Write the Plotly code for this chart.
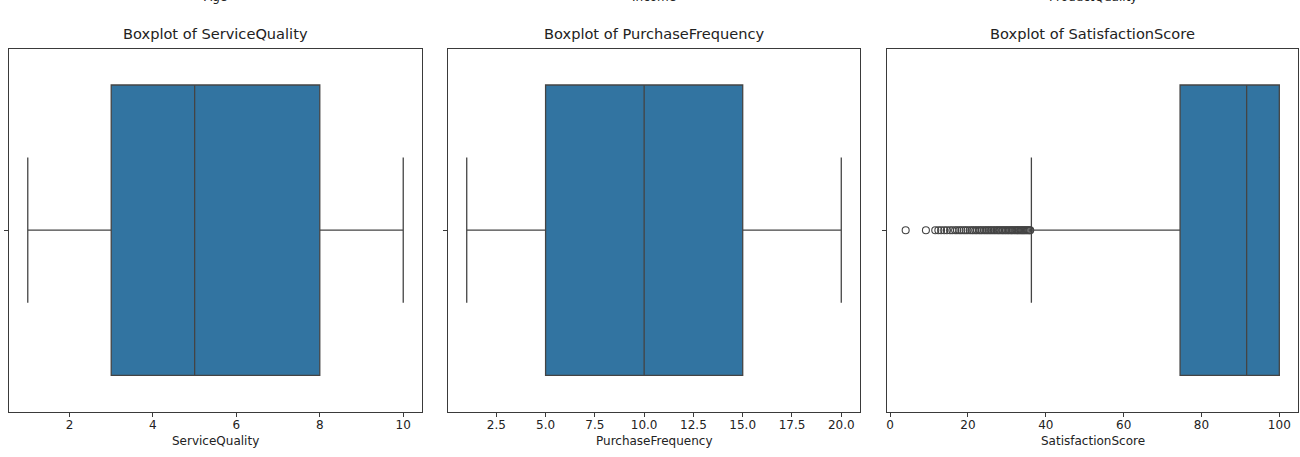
import plotly.graph_objects as go

# ---- data ----
panels = ["ServiceQuality", "PurchaseFrequency", "SatisfactionScore"]
top_labels = ["Age", "Income", "ProductQuality"]
q1 = [3, 5, 74.5]
median = [5, 10, 91.6]
q3 = [8, 15, 100]
lower = [1, 1, 36.3]
upper = [10, 20, 100]
x_ranges = [[0.55, 10.45], [0.05, 20.95], [-0.8, 104.8]]
tick_vals = [[2, 4, 6, 8, 10],
             [2.5, 5.0, 7.5, 10.0, 12.5, 15.0, 17.5, 20.0],
             [0, 20, 40, 60, 80, 100]]
tick_text = [["2", "4", "6", "8", "10"],
             ["2.5", "5.0", "7.5", "10.0", "12.5", "15.0", "17.5", "20.0"],
             ["0", "20", "40", "60", "80", "100"]]
outliers3 = [4.0, 9.2, 11.6, 12.4, 13.1, 13.9, 14.6, 15.4, 16.0, 16.7, 17.2, 17.8,
             18.3, 18.9, 19.4, 19.9, 20.5, 21.0, 21.4, 21.9, 22.3, 22.8, 23.2, 23.6,
             24.1, 24.5, 24.9, 25.3, 25.7, 26.1, 26.5, 26.9, 27.3, 27.7, 28.0, 28.4,
             28.8, 29.1, 29.5, 29.8, 30.2, 30.5, 30.9, 31.2, 31.5, 31.9, 32.2, 32.5,
             32.8, 33.1, 33.4, 33.7, 34.0, 34.3, 34.6, 34.9, 35.2, 35.5, 35.8, 36.0]

W, H = 1300, 457
x_domains = [[9 / W, 422 / W], [448 / W, 860 / W], [887 / W, 1298 / W]]
y_domain = [(H - 411.7) / H, (H - 48.7) / H]

FONT = "DejaVu Sans"
BOX_FILL = "#3274a1"
LINE = "#444444"
TEXT = "#222222"
AXLINE = "#3a3a3a"

fig = go.Figure()
annotations = []

for i in range(3):
    sfx = "" if i == 0 else str(i + 1)
    xa, ya = "x" + sfx, "y" + sfx
    fig.add_trace(go.Box(
        orientation="h", y=[0], q1=[q1[i]], median=[median[i]], q3=[q3[i]],
        lowerfence=[lower[i]], upperfence=[upper[i]],
        width=0.8, whiskerwidth=0.5, fillcolor=BOX_FILL,
        line=dict(color=LINE, width=1.3), boxpoints=False,
        showlegend=False, hoverinfo="skip", xaxis=xa, yaxis=ya))
    if i == 2:
        fig.add_trace(go.Scatter(
            x=outliers3, y=[0 for _ in outliers3], mode="markers",
            marker=dict(symbol="circle-open", size=7, color=LINE, line=dict(width=1.1)),
            showlegend=False, hoverinfo="skip", xaxis=xa, yaxis=ya))

    common_x = dict(domain=x_domains[i], range=x_ranges[i], anchor=ya,
                    tickmode="array", tickvals=tick_vals[i], ticktext=tick_text[i],
                    ticks="outside", ticklen=4, tickwidth=1, tickcolor=AXLINE,
                    ticklabelstandoff=-2,
                    showline=True, mirror=True, linecolor=AXLINE, linewidth=1,
                    showgrid=False, zeroline=False, automargin=False,
                    tickfont=dict(family=FONT, size=12, color=TEXT))
    common_y = dict(domain=y_domain, range=[-0.5, 0.5], anchor=xa,
                    tickmode="array", tickvals=[0], ticktext=[""],
                    ticks="outside", ticklen=4, tickwidth=1, tickcolor=AXLINE,
                    showline=True, mirror=True, linecolor=AXLINE, linewidth=1,
                    showgrid=False, zeroline=False, automargin=False,
                    showticklabels=False)
    fig.update_layout(**{"xaxis" + sfx: common_x, "yaxis" + sfx: common_y})

    cx = (x_domains[i][0] + x_domains[i][1]) / 2
    annotations.append(dict(text="Boxplot of " + panels[i], x=cx, y=1 - 34 / H,
                            xref="paper", yref="paper", xanchor="center", yanchor="middle",
                            showarrow=False, font=dict(family=FONT, size=14.6, color=TEXT)))
    annotations.append(dict(text=panels[i], x=cx, y=1 - 441 / H,
                            xref="paper", yref="paper", xanchor="center", yanchor="middle",
                            showarrow=False, font=dict(family=FONT, size=12, color=TEXT)))
    annotations.append(dict(text=top_labels[i], x=cx, y=1 + 3 / H,
                            xref="paper", yref="paper", xanchor="center", yanchor="middle",
                            showarrow=False, font=dict(family=FONT, size=12, color=TEXT)))

fig.update_layout(
    width=W, height=H, template="none",
    margin=dict(l=0, r=0, t=0, b=0, pad=0),
    paper_bgcolor="white", plot_bgcolor="white",
    annotations=annotations, showlegend=False,
)

fig.write_html("out.html")
